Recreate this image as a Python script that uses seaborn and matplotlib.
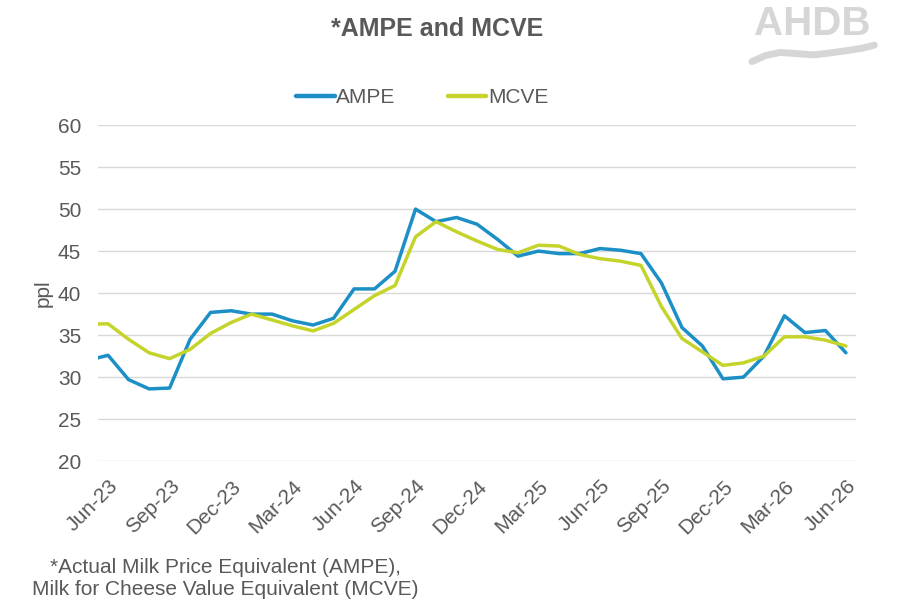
import numpy as np
import pandas as pd
import matplotlib
matplotlib.use("Agg")
import matplotlib.pyplot as plt
import seaborn as sns

# monthly values, May-23 .. Jun-26 (May-23 sits just left of the axis and is clipped)
MONTHS = ['May-23', 'Jun-23', 'Jul-23', 'Aug-23', 'Sep-23', 'Oct-23', 'Nov-23', 'Dec-23',
          'Jan-24', 'Feb-24', 'Mar-24', 'Apr-24', 'May-24', 'Jun-24', 'Jul-24', 'Aug-24',
          'Sep-24', 'Oct-24', 'Nov-24', 'Dec-24', 'Jan-25', 'Feb-25', 'Mar-25', 'Apr-25',
          'May-25', 'Jun-25', 'Jul-25', 'Aug-25', 'Sep-25', 'Oct-25', 'Nov-25', 'Dec-25',
          'Jan-26', 'Feb-26', 'Mar-26', 'Apr-26', 'May-26', 'Jun-26']

AMPE = [32.0, 32.6, 29.7, 28.6, 28.7, 34.5, 37.7, 37.9, 37.5, 37.5, 36.7, 36.2, 37.0,
        40.5, 40.5, 42.6, 50.0, 48.5, 49.0, 48.2, 46.4, 44.4, 45.0, 44.7, 44.7,
        45.3, 45.1, 44.7, 41.2, 35.9, 33.7, 29.8, 30.0, 32.5, 37.3, 35.3, 35.55, 32.9]

MCVE = [36.3, 36.35, 34.5, 32.9, 32.2, 33.3, 35.2, 36.5, 37.5, 36.8, 36.1, 35.5, 36.4,
        38.05, 39.7, 40.9, 46.7, 48.5, 47.3, 46.2, 45.2, 44.8, 45.7, 45.6, 44.6,
        44.1, 43.8, 43.3, 38.4, 34.6, 33.0, 31.4, 31.7, 32.5, 34.8, 34.8, 34.4, 33.7]

SERIES = ['AMPE', 'MCVE']
COLORS = ['#1B8FC6', '#C5D42B']
Y_TICKS = [20, 25, 30, 35, 40, 45, 50, 55, 60]

TITLE = '*AMPE and MCVE'
FOOTNOTE = '*Actual Milk Price Equivalent (AMPE),\nMilk for Cheese Value Equivalent (MCVE)'

GREY = '#595959'
LOGO_GREY = '#D6D6D6'

df = pd.DataFrame({'month': MONTHS, 'AMPE': AMPE, 'MCVE': MCVE})
df['pos'] = np.arange(len(MONTHS)) - 1  # Jun-23 -> 0
long = df.melt(id_vars=['month', 'pos'], value_vars=SERIES, var_name='series', value_name='ppl')

sns.set_theme(style="white")
plt.rcParams['font.family'] = ['Liberation Sans', 'DejaVu Sans']

fig = plt.figure(figsize=(9.06, 6.10), dpi=100)
ax = fig.add_axes([0.108, 0.244, 0.837, 0.551])

sns.lineplot(data=long, x='pos', y='ppl', hue='series', hue_order=SERIES,
             palette=COLORS, linewidth=2.5, ax=ax, legend=False)

ax.set_xlim(-0.5, len(MONTHS) - 1.5)
ax.set_ylim(20, 60)
ax.set_yticks(Y_TICKS)
ax.set_yticklabels([str(t) for t in Y_TICKS], fontsize=15, color=GREY)
ax.yaxis.grid(True, color='#D9D9D9', linewidth=1)
ax.xaxis.grid(False)
for s in ax.spines.values():
    s.set_visible(False)

tick_rows = df[df['pos'] >= 0].iloc[::3]
ax.set_xticks(tick_rows['pos'])
ax.set_xticklabels(tick_rows['month'], rotation=45, ha='right', rotation_mode='anchor',
                   fontsize=15, color=GREY)
ax.tick_params(axis='both', length=0)
ax.tick_params(axis='x', pad=11)
ax.tick_params(axis='y', pad=12)

ax.set_xlabel('')
ax.set_ylabel('ppl', fontsize=15, color=GREY, labelpad=4)

handles = [plt.Line2D([], [], color=c, linewidth=3.2) for c in COLORS]
fig.legend(handles, SERIES, loc='center', bbox_to_anchor=(0.466, 0.84), ncol=2,
           frameon=False, fontsize=15, handlelength=1.85, handletextpad=0.08,
           columnspacing=2.5, labelcolor=GREY)

fig.text(0.482, 0.952, TITLE, ha='center', va='center', fontsize=18,
         fontweight='bold', color=GREY)
fig.text(0.249, 0.052, FOOTNOTE, ha='center', va='center', fontsize=15,
         color=GREY, linespacing=1.2)

# AHDB logo mark
fig.text(0.896, 0.960, 'AHDB', ha='center', va='center', fontsize=29,
         fontweight='bold', color=LOGO_GREY)
wx = np.array([0.830, 0.845, 0.861, 0.880, 0.898, 0.915, 0.935, 0.952, 0.965])
wy = np.array([0.899, 0.909, 0.914, 0.912, 0.910, 0.913, 0.917, 0.921, 0.926])
fig.add_artist(plt.Line2D(wx, wy, color=LOGO_GREY, linewidth=5,
                          solid_capstyle='round', transform=fig.transFigure))

fig.savefig('out.png', dpi=100)
